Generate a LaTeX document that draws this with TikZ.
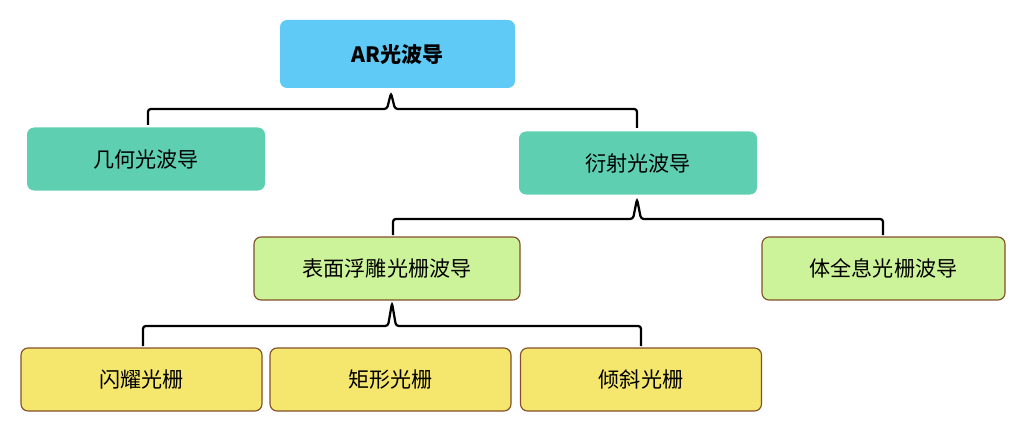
\documentclass[tikz,border=0pt]{standalone}
\usepackage{fontspec}
\setmainfont{Liberation Serif}
\newfontfamily\cjk{Noto Sans CJK SC}
\begin{document}
\begin{tikzpicture}[x=0.025cm,y=-0.025cm,
 box/.style={rounded corners=5pt,minimum width=#1*0.025cm,minimum height=63*0.025cm,inner sep=0pt,font=\cjk\fontsize{15}{18}\selectfont},
 blue/.style={box=235,fill={rgb,255:red,94;green,202;blue,245}},
 teal/.style={box=238,fill={rgb,255:red,94;green,207;blue,176}},
 green/.style={box=#1,fill={rgb,255:red,204;green,242;blue,154},draw={rgb,255:red,130;green,80;blue,40},thick},
 yellow/.style={box=241,fill={rgb,255:red,245;green,230;blue,110},draw={rgb,255:red,130;green,80;blue,40},thick},
 brace/.style={line width=1.6pt,rounded corners=2pt}]
\useasboundingbox (0,0) rectangle (1017,426);
\node[blue,minimum height=68*0.025cm] (ar) at (397.5,54) {\textbf{AR}{\bfseries\cjk 光波导}};
\node[teal] (geo) at (146,159) {几何光波导};
\node[teal] (dif) at (638,163) {衍射光波导};
\node[green=266] (sr) at (387,268.5) {表面浮雕光栅波导};
\node[green=243] (vh) at (883.5,268.5) {体全息光栅波导};
\node[yellow] (g1) at (141.5,379.5) {闪耀光栅};
\node[yellow] (g2) at (390.5,379.5) {矩形光栅};
\node[yellow] (g3) at (641,379.5) {倾斜光栅};
\coordinate (b1) at (391,93);
\draw[brace] (148,125) -- (148,109) -- (387,109) -- (b1) -- (395,109) -- (637,109) -- (637,128);
\coordinate (b2) at (637,199);
\draw[brace] (393,235) -- (393,219) -- (633,219) -- (b2) -- (641,219) -- (883,219) -- (883,235);
\coordinate (b3) at (392,303);
\draw[brace] (143,346) -- (143,326) -- (388,326) -- (b3) -- (396,326) -- (641,326) -- (641,346);
\end{tikzpicture}
\end{document}
